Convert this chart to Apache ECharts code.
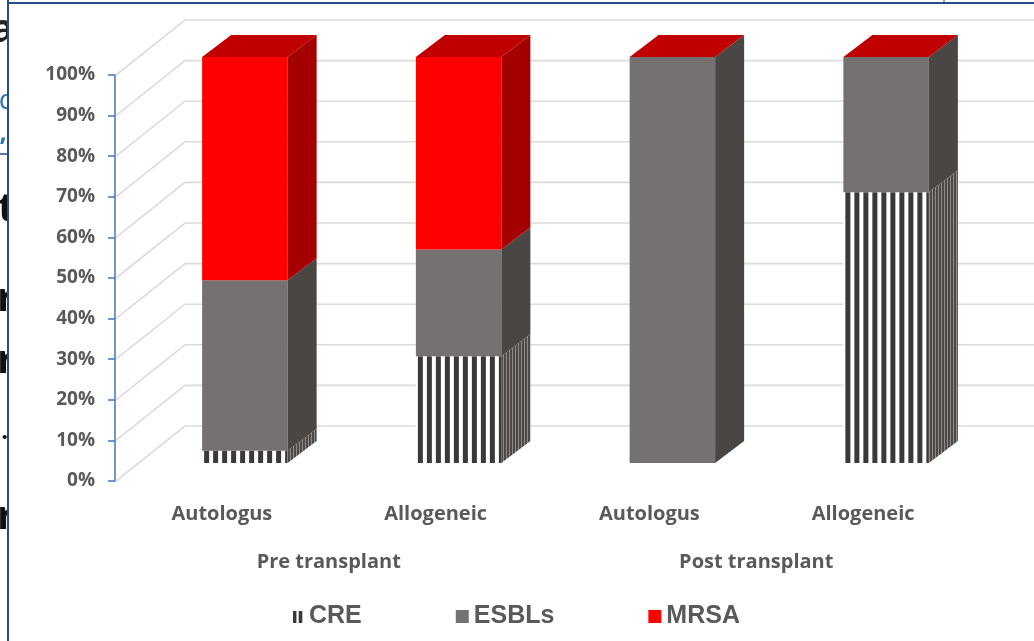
<!DOCTYPE html>
<html>
<head>
<meta charset="utf-8">
<script src="https://cdn.jsdelivr.net/npm/echarts@6/dist/echarts.min.js"></script>
<style>
  html, body { margin: 0; padding: 0; background: #ffffff; }
  #chart { width: 1034px; height: 641px; }
</style>
</head>
<body>
<div id="chart"></div>
<script>
// Share of resistant isolates by transplant type, before and after transplant
const categories = ['Autologus', 'Allogeneic', 'Autologus', 'Allogeneic'];
const groups = ['Pre transplant', 'Post transplant'];
const seriesNames = ['CRE', 'ESBLs', 'MRSA'];
const cre   = [3, 26.3, 0, 66.7];
const esbls = [42, 26.3, 100, 33.3];
const mrsa  = [55, 47.4, 0, 0];
const yTicks = [0, 10, 20, 30, 40, 50, 60, 70, 80, 90, 100];

// Pseudo-3D offsets (pixels): axis plane -> bar front, bar depth, axis plane -> back wall
const FRONT = [23, -18];
const DEPTH = [29, -22];
const WALL = [70, -55];

function stripes(period, darkW, offset, dark, light) {
  const c = document.createElement('canvas');
  c.width = period; c.height = 4;
  const g = c.getContext('2d');
  g.fillStyle = light; g.fillRect(0, 0, period, 4);
  g.fillStyle = dark; g.fillRect(offset, 0, darkW, 4);
  return c;
}
const creFrontImg = stripes(9, 5, 2, '#3b3836', '#ffffff');
const creSideImg = stripes(3, 2, 0, '#4e4a47', '#8e8c8a');

const palette = {
  CRE:   { front: { image: creFrontImg, repeat: 'repeat' }, side: { image: creSideImg, repeat: 'repeat' }, top: '#3b3836' },
  ESBLs: { front: '#767171', side: '#4a4643', top: '#5e5a57' },
  MRSA:  { front: '#ff0000', side: '#a50000', top: '#c00000' }
};

// stack the three series into [category, low, high] triples
const values = [cre, esbls, mrsa];
const stacked = values.map(() => []);
categories.forEach((c, i) => {
  let base = 0;
  values.forEach((arr, s) => {
    stacked[s].push([i, base, base + arr[i]]);
    base += arr[i];
  });
});

function renderBox(name, drawTop) {
  const col = palette[name];
  return function (params, api) {
    const cat = api.value(0), lo = api.value(1), hi = api.value(2);
    const pLo = api.coord([cat, lo]);
    const pHi = api.coord([cat, hi]);
    const half = params.coordSys.width / categories.length * 0.2;
    const xl = pLo[0] - half + FRONT[0];
    const xr = pLo[0] + half + FRONT[0];
    const yb = pLo[1] + FRONT[1];
    const yt = pHi[1] + FRONT[1];
    const children = [];
    if (yb - yt > 0.05) {
      const frontFill = typeof col.front === 'string' ? col.front : Object.assign({}, col.front, { x: xl });
      children.push({
        type: 'rect',
        shape: { x: xl, y: yt, width: xr - xl, height: yb - yt },
        style: { fill: frontFill }
      });
      children.push({
        type: 'polygon',
        shape: { points: [[xr, yt], [xr + DEPTH[0], yt + DEPTH[1]], [xr + DEPTH[0], yb + DEPTH[1]], [xr, yb]] },
        style: { fill: col.side }
      });
    }
    if (drawTop) {
      children.push({
        type: 'polygon',
        shape: { points: [[xl, yt], [xr, yt], [xr + DEPTH[0], yt + DEPTH[1]], [xl + DEPTH[0], yt + DEPTH[1]]] },
        style: { fill: col.top }
      });
    }
    return { type: 'group', children: children };
  };
}

const labelFont = 'Open Sans, DejaVu Sans, sans-serif';
const chart = echarts.init(document.getElementById('chart'), null, { renderer: 'canvas' });

const option = {
  backgroundColor: '#ffffff',
  animation: false,
  grid: { left: 115, right: 64, top: 75, bottom: 160, containLabel: false },
  xAxis: [
    {
      type: 'category',
      data: categories,
      axisLine: { show: false },
      axisTick: { show: false },
      axisLabel: { margin: 23, color: '#595959', fontSize: 20, fontWeight: 'bold', fontFamily: labelFont }
    },
    {
      type: 'category',
      data: groups,
      position: 'bottom',
      axisLine: { show: false },
      axisTick: { show: false },
      axisLabel: { margin: 71, color: '#595959', fontSize: 20, fontWeight: 'bold', fontFamily: labelFont }
    }
  ],
  yAxis: {
    type: 'value',
    min: 0,
    max: 100,
    interval: 10,
    axisLine: { show: true, lineStyle: { color: '#4472c4', width: 1.5 } },
    axisTick: { show: true, length: 7, lineStyle: { color: '#4472c4', width: 1.5 } },
    splitLine: { show: false },
    axisLabel: {
      margin: 20,
      color: '#595959',
      fontSize: 19,
      fontWeight: 'bold',
      fontFamily: labelFont,
      formatter: v => v + '%'
    }
  },
  legend: {
    data: [
      {
        name: 'CRE',
        icon: 'path://M0,0L0,0M2,1h3.4v12h-3.4zM7.7,1h3.6v12h-3.6zM13,13L13,13',
        itemStyle: { color: '#3b3836' }
      },
      'ESBLs',
      'MRSA'
    ],
    icon: 'rect',
    left: 286,
    top: 599,
    itemWidth: 13,
    itemHeight: 13,
    itemGap: 94,
    textStyle: { fontFamily: 'Liberation Sans, Arial, sans-serif', fontWeight: 'bold', fontSize: 25, color: '#595959' }
  },
  series: [
    {
      // side-wall and back-wall gridlines
      type: 'custom',
      name: 'gridlines',
      silent: true,
      z: 1,
      data: yTicks.map(v => [0, v]),
      renderItem: function (params, api) {
        const p = api.coord([0, api.value(1)]);
        const x0 = params.coordSys.x;
        return {
          type: 'polyline',
          shape: { points: [[x0 + 1, p[1]], [x0 + WALL[0], p[1] + WALL[1]], [api.getWidth(), p[1] + WALL[1]]] },
          style: { stroke: '#dcdcdc', lineWidth: 1.6, fill: null }
        };
      }
    },
    {
      type: 'custom', name: 'CRE', z: 3,
      itemStyle: { color: '#3b3836' },
      data: stacked[0],
      renderItem: renderBox('CRE', false)
    },
    {
      type: 'custom', name: 'ESBLs', z: 3,
      itemStyle: { color: palette.ESBLs.front },
      data: stacked[1],
      renderItem: renderBox('ESBLs', false)
    },
    {
      type: 'custom', name: 'MRSA', z: 3,
      itemStyle: { color: palette.MRSA.front },
      data: stacked[2],
      renderItem: renderBox('MRSA', true)
    }
  ],
  graphic: [
    // slide text peeking out at the left edge
    { type: 'text', style: { text: 'a', x: 15, y: 31, textAlign: 'right', textVerticalAlign: 'middle', font: 'bold 40px Open Sans', fill: '#222222' } },
    { type: 'text', style: { text: 'd', x: 16, y: 101, textAlign: 'right', textVerticalAlign: 'middle', font: '28px Open Sans', fill: '#2e75b6' } },
    { type: 'text', style: { text: ',', x: 7, y: 134, textAlign: 'right', textVerticalAlign: 'middle', font: 'bold 26px Open Sans', fill: '#2e75b6' } },
    { type: 'text', style: { text: 't', x: -2, y: 210, textAlign: 'left', textVerticalAlign: 'middle', font: 'bold 40px Open Sans', fill: '#111111' } },
    { type: 'text', style: { text: 'r', x: -3, y: 300, textAlign: 'left', textVerticalAlign: 'middle', font: 'bold 40px Open Sans', fill: '#111111' } },
    { type: 'text', style: { text: 'r', x: -3, y: 362, textAlign: 'left', textVerticalAlign: 'middle', font: 'bold 40px Open Sans', fill: '#111111' } },
    { type: 'text', style: { text: '.', x: 8, y: 432, textAlign: 'right', textVerticalAlign: 'middle', font: 'bold 24px Open Sans', fill: '#111111' } },
    { type: 'text', style: { text: 'r', x: -3, y: 518, textAlign: 'left', textVerticalAlign: 'middle', font: 'bold 40px Open Sans', fill: '#111111' } },
    { type: 'rect', shape: { x: 9, y: 0, width: 30, height: 641 }, style: { fill: '#ffffff' } },
    // frame
    { type: 'line', shape: { x1: 8, y1: 0, x2: 8, y2: 641 }, style: { stroke: '#284c85', lineWidth: 2 } },
    { type: 'line', shape: { x1: 8, y1: 3, x2: 1034, y2: 3 }, style: { stroke: '#284c85', lineWidth: 2 } },
    { type: 'line', shape: { x1: 0, y1: 154, x2: 8, y2: 154 }, style: { stroke: '#284c85', lineWidth: 1.5 } },
    { type: 'line', shape: { x1: 944, y1: 0, x2: 944, y2: 3 }, style: { stroke: '#284c85', lineWidth: 1 } }
  ]
};

chart.setOption(option);
</script>
</body>
</html>
